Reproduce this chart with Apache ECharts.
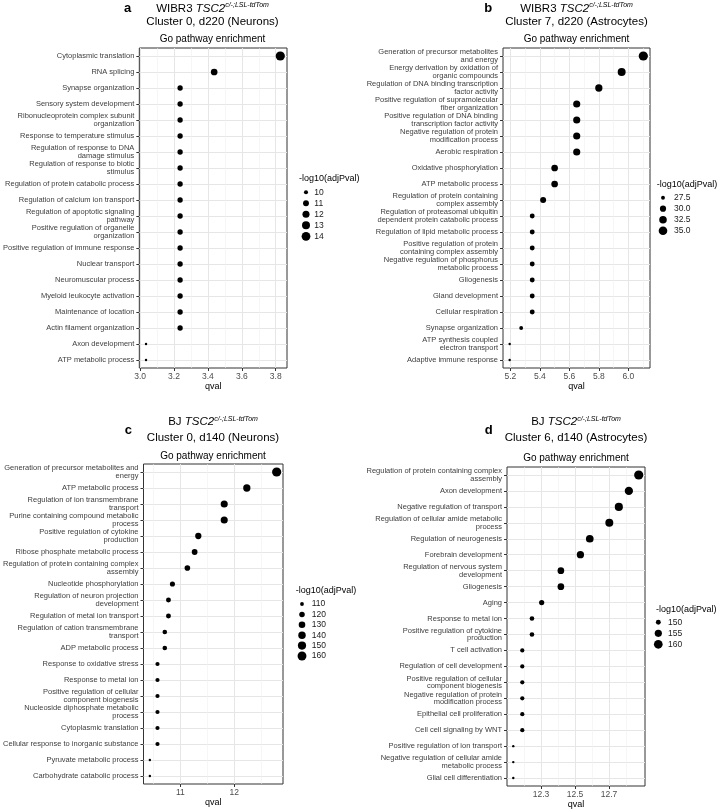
<!DOCTYPE html>
<html><head><meta charset="utf-8">
<script src="https://cdn.jsdelivr.net/npm/echarts@6/dist/echarts.min.js"></script>
<style>html,body{margin:0;padding:0;background:#fff}#c{width:720px;height:810px}</style>
</head><body><div id="c"></div>
<script>
// ---------- Panel a ----------
const aTerms = [
 'Cytoplasmic translation','RNA splicing','Synapse organization','Sensory system development',
 'Ribonucleoprotein complex subunit\norganization','Response to temperature stimulus',
 'Regulation of response to DNA\ndamage stimulus','Regulation of response to biotic\nstimulus',
 'Regulation of protein catabolic process','Regulation of calcium ion transport',
 'Regulation of apoptotic signaling\npathway','Positive regulation of organelle\norganization',
 'Positive regulation of immune response','Nuclear transport','Neuromuscular process',
 'Myeloid leukocyte activation','Maintenance of location','Actin filament organization',
 'Axon development','ATP metabolic process'];
const aQval = [3.827,3.437,3.236,3.236,3.236,3.236,3.236,3.236,3.236,3.236,3.236,3.236,3.236,3.236,3.236,3.236,3.236,3.236,3.035,3.035];
const aLogP = [14.6,11.66,10.6,10.6,10.6,10.6,10.6,10.6,10.6,10.6,10.6,10.6,10.6,10.6,10.6,10.6,10.6,10.6,9.7,9.7];
const aTicks = [3.0,3.2,3.4,3.6,3.8];
const aTickLabels = ['3.0','3.2','3.4','3.6','3.8'];
const aMinor = [3.1,3.3,3.5,3.7];
const aBreaks = [10,11,12,13,14];
const aBreakLabels = ['10','11','12','13','14'];

// ---------- Panel b ----------
const bTerms = [
 'Generation of precursor metabolites\nand energy','Energy derivation by oxidation of\norganic compounds',
 'Regulation of DNA binding transcription\nfactor activity','Positive regulation of supramolecular\nfiber organization',
 'Positive regulation of DNA binding\ntranscription factor activity','Negative regulation of protein\nmodification process',
 'Aerobic respiration','Oxidative phosphorylation','ATP metabolic process',
 'Regulation of protein containing\ncomplex assembly','Regulation of proteasomal ubiquitin\ndependent protein catabolic process',
 'Regulation of lipid metabolic process','Positive regulation of protein\ncontaining complex assembly',
 'Negative regulation of phosphorus\nmetabolic process','Gliogenesis','Gland development','Cellular respiration',
 'Synapse organization','ATP synthesis coupled\nelectron transport','Adaptive immune response'];
const bQval = [6.102,5.955,5.80,5.65,5.65,5.65,5.65,5.50,5.50,5.422,5.348,5.348,5.348,5.348,5.348,5.348,5.348,5.273,5.195,5.195];
const bLogP = [36.5,33.4,31.9,31.7,31.7,31.7,31.7,30.8,30.8,29.7,28.4,28.4,28.4,28.4,28.4,28.4,28.4,27.5,27.07,27.07];
const bTicks = [5.2,5.4,5.6,5.8,6.0];
const bTickLabels = ['5.2','5.4','5.6','5.8','6.0'];
const bMinor = [5.3,5.5,5.7,5.9,6.1];
const bBreaks = [27.5,30,32.5,35];
const bBreakLabels = ['27.5','30.0','32.5','35.0'];

// ---------- Panel c ----------
const cTerms = [
 'Generation of precursor metabolites and\nenergy','ATP metabolic process',
 'Regulation of ion transmembrane\ntransport','Purine containing compound metabolic\nprocess',
 'Positive regulation of cytokine\nproduction','Ribose phosphate metabolic process',
 'Regulation of protein containing complex\nassembly','Nucleotide phosphorylation',
 'Regulation of neuron projection\ndevelopment','Regulation of metal ion transport',
 'Regulation of cation transmembrane\ntransport','ADP metabolic process','Response to oxidative stress',
 'Response to metal ion','Positive regulation of cellular\ncomponent biogenesis',
 'Nucleoside diphosphate metabolic\nprocess','Cytoplasmic translation',
 'Cellular response to inorganic substance','Pyruvate metabolic process','Carbohydrate catabolic process'];
const cQval = [12.79,12.235,11.815,11.815,11.333,11.265,11.13,10.852,10.778,10.778,10.71,10.71,10.574,10.574,10.574,10.574,10.574,10.574,10.432,10.432];
const cLogP = [166,137.7,135.3,135.3,126.5,121.7,120.9,117,115.6,115.6,113.7,113.7,111.6,111.6,111.6,111.6,111.6,111.6,107.5,107.5];
const cTicks = [11,12];
const cTickLabels = ['11','12'];
const cMinor = [10.5,11.5,12.5];
const cBreaks = [110,120,130,140,150,160];
const cBreakLabels = ['110','120','130','140','150','160'];

// ---------- Panel d ----------
const dTerms = [
 'Regulation of protein containing complex\nassembly','Axon development','Negative regulation of transport',
 'Regulation of cellular amide metabolic\nprocess','Regulation of neurogenesis','Forebrain development',
 'Regulation of nervous system\ndevelopment','Gliogenesis','Aging','Response to metal ion',
 'Positive regulation of cytokine\nproduction','T cell activation','Regulation of cell development',
 'Positive regulation of cellular\ncomponent biogenesis','Negative regulation of protein\nmodification process',
 'Epithelial cell proliferation','Cell cell signaling by WNT','Positive regulation of ion transport',
 'Negative regulation of cellular amide\nmetabolic process','Glial cell differentiation'];
const dQval = [12.875,12.817,12.758,12.702,12.587,12.532,12.417,12.417,12.304,12.247,12.247,12.19,12.19,12.19,12.19,12.19,12.19,12.137,12.137,12.137];
const dLogP = [162,158.5,158,157.5,156.5,155.3,153.6,153.6,150.5,149.6,149.6,149.1,149.1,149.1,149.1,149.1,149.1,148.1,148.1,148.1];
const dTicks = [12.3,12.5,12.7];
const dTickLabels = ['12.3','12.5','12.7'];
const dMinor = [12.2,12.4,12.6,12.8];
const dBreaks = [150,155,160];
const dBreakLabels = ['150','155','160'];

// ---------- Titles ----------
const letters = ['a','b','c','d'];
const line1Pre = ['WIBR3 ','WIBR3 ','BJ ','BJ '];
const line2 = ['Cluster 0, d220 (Neurons)','Cluster 7, d220 (Astrocytes)','Cluster 0, d140 (Neurons)','Cluster 6, d140 (Astrocytes)'];
const subTitle = 'Go pathway enrichment';
const legendTitle = '-log10(adjPval)';
const xName = 'qval';

// ---------- layout / style ----------
const FONT = '"Liberation Sans", Arial, Helvetica, sans-serif';
const D0 = 2.4, D1 = 9.2;
const layout = [
 {grid:{left:137,top:48,width:150,height:320}, leg:{left:301,top:186.8,height:55,margin:3.3}, legT:{x:299,y:179},
  tx:212.5, t1:8.5, t2:22, t3:39.3, lx:127.5, ly:8.5},
 {grid:{left:503,top:48,width:147,height:320}, leg:{left:658,top:192.2,height:44,margin:6}, legT:{x:656.7,y:184.3},
  tx:576.5, t1:8.5, t2:22, t3:39.3, lx:488.3, ly:8.2},
 {grid:{left:143,top:464,width:140,height:320}, leg:{left:297,top:598.8,height:62.4,margin:4.7}, legT:{x:295.7,y:591},
  tx:213, t1:422.2, t2:437.5, t3:455.8, lx:128.3, ly:430},
 {grid:{left:507,top:467,width:138,height:320}, leg:{left:653.3,top:616.8,height:33,margin:4.7}, legT:{x:656,y:610},
  tx:576, t1:422.2, t2:438.3, t3:458.5, lx:488.7, ly:430.3}
];
const panels = [
 {terms:aTerms,q:aQval,s:aLogP,ticks:aTicks,tl:aTickLabels,minor:aMinor,br:aBreaks,bl:aBreakLabels},
 {terms:bTerms,q:bQval,s:bLogP,ticks:bTicks,tl:bTickLabels,minor:bMinor,br:bBreaks,bl:bBreakLabels},
 {terms:cTerms,q:cQval,s:cLogP,ticks:cTicks,tl:cTickLabels,minor:cMinor,br:cBreaks,bl:cBreakLabels},
 {terms:dTerms,q:dQval,s:dLogP,ticks:dTicks,tl:dTickLabels,minor:dMinor,br:dBreaks,bl:dBreakLabels}
];

function sizer(vals){
  const lo = Math.min(...vals), hi = Math.max(...vals);
  return v => D0 + (D1 - D0) * Math.sqrt(Math.max(0, Math.min(1, (v - lo) / (hi - lo))));
}

const grid = [], xAxis = [], yAxis = [], series = [], title = [];
const majorLine = {color:'#e6e6e6', width:1, type:'solid'};
const minorLine = {color:'#f0f0f0', width:0.6, type:'solid'};

panels.forEach((p, k) => {
  const L = layout[k];
  const sz = sizer(p.s);
  const lo = Math.min(...p.q), hi = Math.max(...p.q), pad = (hi - lo) * 0.05;
  const gi = grid.length;
  grid.push(Object.assign({show:true, backgroundColor:'#fff', borderColor:'#333', borderWidth:1}, L.grid));
  xAxis.push({
    type:'value', gridIndex:gi, min:lo - pad, max:hi + pad,
    name:xName, nameLocation:'middle', nameGap:14,
    nameTextStyle:{fontSize:9, color:'#000', fontFamily:FONT},
    axisLine:{show:false},
    axisTick:{show:true, length:3, lineStyle:{color:'#333'}, customValues:p.ticks},
    axisLabel:{customValues:p.ticks, fontSize:8.5, color:'#4d4d4d', margin:4, fontFamily:FONT,
      formatter: v => { const i = p.ticks.findIndex(t => Math.abs(t - v) < 1e-6); return i >= 0 ? p.tl[i] : ''; }},
    splitLine:{show:false}
  });
  yAxis.push({
    type:'category', gridIndex:gi, data:p.terms, inverse:true,
    axisLine:{show:false},
    axisTick:{show:true, length:3, alignWithLabel:true, lineStyle:{color:'#333'}},
    axisLabel:{interval:0, fontSize:7.5, lineHeight:7.6, color:'#404040', margin:5, fontFamily:FONT},
    splitLine:{show:false}
  });
  const ml = [];
  p.terms.forEach((t, i) => ml.push({yAxis:i, lineStyle:majorLine}));
  p.minor.forEach(v => ml.push({xAxis:v, lineStyle:minorLine}));
  p.ticks.forEach(v => ml.push({xAxis:v, lineStyle:majorLine}));
  series.push({
    type:'scatter', xAxisIndex:gi, yAxisIndex:gi, z:3,
    data:p.q.map((x, i) => [x, i, p.s[i]]),
    symbolSize: v => sz(v[2]),
    itemStyle:{color:'#000', opacity:1},
    markLine:{z:1, silent:true, symbol:['none','none'], label:{show:false}, animation:false, data:ml}
  });
  // size legend
  const li = grid.length;
  grid.push({left:L.leg.left, top:L.leg.top, width:10, height:L.leg.height, show:false});
  xAxis.push({type:'category', gridIndex:li, data:['k'], show:false});
  yAxis.push({type:'category', gridIndex:li, data:p.bl, inverse:true, position:'right',
    axisLine:{show:false}, axisTick:{show:false}, splitLine:{show:false},
    axisLabel:{interval:0, margin:L.leg.margin, fontSize:8.5, color:'#1a1a1a', fontFamily:FONT}});
  series.push({type:'scatter', xAxisIndex:li, yAxisIndex:li, data:p.br.map((b, i) => [0, i, b]),
    symbolSize: v => sz(v[2]), itemStyle:{color:'#000', opacity:1}});
  // titles
  title.push({text:legendTitle, left:L.legT.x, top:L.legT.y - 5.5, padding:0,
    textStyle:{fontSize:9, fontWeight:'normal', color:'#000', lineHeight:11, fontFamily:FONT}});
  title.push({text:letters[k], left:L.lx, top:L.ly - 8, padding:0, textAlign:'center',
    textStyle:{fontSize:13, fontWeight:'bold', color:'#000', lineHeight:16, fontFamily:FONT}});
  title.push({text:'{n|' + line1Pre[k] + '}{i|TSC2}{s|c/-;LSL-tdTom}', left:L.tx, top:L.t1 - 7, padding:0, textAlign:'center',
    textStyle:{fontFamily:FONT, fontWeight:'normal', rich:{
      n:{fontSize:11.5, lineHeight:14, color:'#000', fontWeight:'normal', fontFamily:FONT},
      i:{fontSize:11.5, lineHeight:14, color:'#000', fontWeight:'normal', fontStyle:'italic', fontFamily:FONT},
      s:{fontSize:7, lineHeight:9, color:'#000', fontWeight:'normal', fontStyle:'italic', verticalAlign:'top', fontFamily:FONT}}}});
  title.push({text:line2[k], left:L.tx, top:L.t2 - 7, padding:0, textAlign:'center',
    textStyle:{fontSize:11.5, fontWeight:'normal', color:'#000', lineHeight:14, fontFamily:FONT}});
  title.push({text:subTitle, left:L.tx, top:L.t3 - 6, padding:0, textAlign:'center',
    textStyle:{fontSize:10, fontWeight:'normal', color:'#000', lineHeight:12, fontFamily:FONT}});
});

const chart = echarts.init(document.getElementById('c'), null, {renderer:'canvas', width:720, height:810});
chart.setOption({
  animation:false, backgroundColor:'#fff',
  textStyle:{fontFamily:FONT},
  title, grid, xAxis, yAxis, series
});
</script></body></html>
